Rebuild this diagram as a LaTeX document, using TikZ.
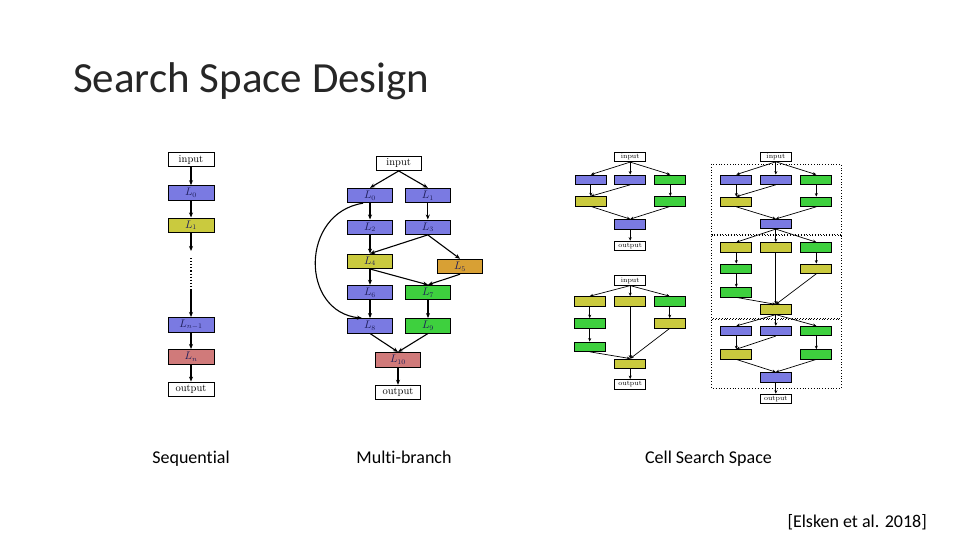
\documentclass[tikz,border=0pt]{standalone}
\usepackage{fontspec}
\newfontfamily\calib[RawFeature={-liga}]{Carlito}
\usetikzlibrary{arrows.meta}
\definecolor{cblue}{RGB}{122,122,226}
\definecolor{cyellow}{RGB}{202,202,62}
\definecolor{cgreen}{RGB}{62,208,62}
\definecolor{corange}{RGB}{216,160,52}
\definecolor{cred}{RGB}{208,122,122}
\definecolor{labc}{RGB}{30,30,90}
\begin{document}
\begin{tikzpicture}[x=1pt,y=-1pt,
 sbox/.style={draw, line width=0.9pt, minimum width=46pt, minimum height=14.5pt, inner sep=0pt, font=\fontsize{10.5}{12}\selectfont, text=labc},
 mbox/.style={sbox, minimum width=45pt},
 cbox/.style={draw, line width=0.7pt, minimum width=31pt, minimum height=9.5pt, inner sep=0pt, font=\fontsize{7}{8}\selectfont},
 arr/.style={-{Stealth[length=5pt,width=4pt]}, line width=1.1pt},
 carr/.style={-{Stealth[length=3.5pt,width=3pt]}, line width=0.7pt},
 cellbox/.style={draw, dotted, line width=0.8pt},
 captxt/.style={font=\calib\fontsize{18}{20}\selectfont, anchor=base, inner sep=0pt}
]
\useasboundingbox (0,0) rectangle (960,540);

% title and captions
\node[font=\calib\fontsize{43}{48}\selectfont, anchor=base west, inner sep=0pt, text=black!85] (title) at (73,93) {Search Space Design};
\node[captxt] (c1) at (191,463) {Sequential};
\node[captxt] (c2) at (404,463) {Multi-branch};
\node[captxt] (c3) at (708.5,463) {Cell Search Space};
\node[captxt, anchor=base east] (ref) at (927,527) {[Elsken et al. 2018]};

% ---------- sequential ----------
\node[sbox, fill=white, text=black] (sin) at (191,159.7) {input};
\node[sbox, fill=cblue] (s0) at (191,192.9) {$L_0$};
\node[sbox, fill=cyellow] (s1) at (191,225.2) {$L_1$};
\node[sbox, fill=cblue] (sn1) at (191,324.7) {$L_{n-1}$};
\node[sbox, fill=cred] (sn) at (191,356.7) {$L_n$};
\node[sbox, fill=white, text=black] (sout) at (191,389.3) {output};
\coordinate (sa) at (191,251);
\coordinate (sb) at (191,258);
\coordinate (sc) at (191,289);
\draw[arr] (sin) -- (s0);
\draw[arr] (s0) -- (s1);
\draw[arr] (s1) -- (sa);
\draw[line width=1.1pt, dotted] (sb) -- (sc);
\draw[arr] (sc) -- (sn1);
\draw[arr] (sn1) -- (sn);
\draw[arr] (sn) -- (sout);

% ---------- multi-branch ----------
\node[mbox, fill=white, text=black, minimum height=14pt] (min) at (398.7,163.5) {input};
\node[mbox, fill=cblue] (m0) at (370,195.5) {$L_0$};
\node[mbox, fill=cblue] (m1) at (427.8,195.5) {$L_1$};
\node[mbox, fill=cblue] (m2) at (370,227.2) {$L_2$};
\node[mbox, fill=cblue] (m3) at (427.8,227.2) {$L_3$};
\node[mbox, fill=cyellow] (m4) at (370,261.3) {$L_4$};
\node[mbox, fill=corange] (m5) at (460,266.5) {$L_5$};
\node[mbox, fill=cblue] (m6) at (370,292.5) {$L_6$};
\node[mbox, fill=cgreen] (m7) at (428,292.5) {$L_7$};
\node[mbox, fill=cblue] (m8) at (370,325.8) {$L_8$};
\node[mbox, fill=cgreen] (m9) at (428,325.8) {$L_9$};
\node[mbox, fill=cred] (m10) at (398,359.7) {$L_{10}$};
\node[mbox, fill=white, text=black] (mout) at (398,392.5) {output};
\draw[arr] (min.south) -- (m0.north);
\draw[arr] (min.south) -- (m1.north);
\draw[arr] (m0) -- (m2);
\draw[arr] (m1) -- (m3);
\draw[arr] (m2) -- (m4);
\draw[arr] (m3.south) -- (m4.north);
\draw[arr] (m3.south) -- (m5.north);
\draw[arr] (m4) -- (m6);
\draw[arr] (m4.south) -- (m7.north);
\draw[arr] (m5.south) -- (m7.north);
\draw[arr] (m6) -- (m8);
\draw[arr] (m7) -- (m9);
\draw[arr] (m8.south) -- (m10.north);
\draw[arr] (m9.south) -- (m10.north);
\draw[arr] (m10) -- (mout);
\draw[arr] ([xshift=-7pt]m0.south) .. controls (300,213) and (300,312) .. ([xshift=-8pt]m8.north);

% ---------- cell A ----------
\node[cbox, fill=white] (ain) at (630.2,157) {input};
\node[cbox, fill=cblue] (a1) at (590.8,179.7) {};
\node[cbox, fill=cblue] (a2) at (630.2,179.7) {};
\node[cbox, fill=cgreen] (a3) at (670.3,179.7) {};
\node[cbox, fill=cyellow] (a4) at (590.8,201.3) {};
\node[cbox, fill=cgreen] (a5) at (670.3,201.3) {};
\node[cbox, fill=cblue] (a6) at (630.2,224.2) {};
\node[cbox, fill=white] (aout) at (630.2,245.8) {output};
\draw[carr] (ain.south) -- (a1.north);
\draw[carr] (ain.south) -- (a2.north);
\draw[carr] (ain.south) -- (a3.north);
\draw[carr] (a1) -- (a4);
\draw[carr] (a2.south) -- (a4.north);
\draw[carr] (a3) -- (a5);
\draw[carr] (a4.south) -- (a6.north);
\draw[carr] (a5.south) -- (a6.north);
\draw[carr] (a6) -- (aout);

% ---------- cell B ----------
\node[cbox, fill=white] (bin) at (630.2,280.5) {input};
\node[cbox, fill=cyellow] (b1) at (589.7,301.3) {};
\node[cbox, fill=cyellow] (b2) at (630.2,301.3) {};
\node[cbox, fill=cgreen] (b3) at (669.7,301.3) {};
\node[cbox, fill=cgreen] (b4) at (589.7,323.3) {};
\node[cbox, fill=cyellow] (b5) at (669.7,323.3) {};
\node[cbox, fill=cgreen] (b6) at (589.7,346.7) {};
\node[cbox, fill=cyellow] (b7) at (630.2,363.7) {};
\node[cbox, fill=white] (bout) at (630.2,384.2) {output};
\draw[carr] (bin.south) -- (b1.north);
\draw[carr] (bin.south) -- (b2.north);
\draw[carr] (bin.south) -- (b3.north);
\draw[carr] (b1) -- (b4);
\draw[carr] (b4) -- (b6);
\draw[carr] (b3) -- (b5);
\draw[carr] (b6.south) -- (b7.north);
\draw[carr] (b2) -- (b7);
\draw[carr] (b5.south) -- (b7.north);
\draw[carr] (b7) -- (bout);

% ---------- stacked cells ----------
\draw[cellbox] (711.7,164) rectangle (841,234.5);
\draw[cellbox] (711.7,235.8) rectangle (841,318.2);
\draw[cellbox] (711.7,319.5) rectangle (841,388.3);
\node[cbox, fill=white] (rin) at (775.8,156.7) {input};
\node[cbox, fill=cblue] (r11) at (736.3,179.7) {};
\node[cbox, fill=cblue] (r12) at (775.8,179.7) {};
\node[cbox, fill=cgreen] (r13) at (816.3,179.7) {};
\node[cbox, fill=cyellow] (r14) at (736.3,201.7) {};
\node[cbox, fill=cgreen] (r15) at (816.3,201.7) {};
\node[cbox, fill=cblue] (r16) at (775.8,224) {};
\draw[carr] (rin.south) -- (r11.north);
\draw[carr] (rin.south) -- (r12.north);
\draw[carr] (rin.south) -- (r13.north);
\draw[carr] (r11) -- (r14);
\draw[carr] (r12.south) -- (r14.north);
\draw[carr] (r13) -- (r15);
\draw[carr] (r14.south) -- (r16.north);
\draw[carr] (r15.south) -- (r16.north);

\node[cbox, fill=cyellow] (r21) at (736.3,247.3) {};
\node[cbox, fill=cyellow] (r22) at (775.8,247.3) {};
\node[cbox, fill=cgreen] (r23) at (816.3,247.3) {};
\node[cbox, fill=cgreen] (r24) at (736.3,268.7) {};
\node[cbox, fill=cyellow] (r25) at (816.3,268.7) {};
\node[cbox, fill=cgreen] (r26) at (736.3,292.3) {};
\node[cbox, fill=cyellow] (r27) at (775.8,309.5) {};
\draw[carr] (r16.south) -- (r21.north);
\draw[carr] (r16.south) -- (r22.north);
\draw[carr] (r16.south) -- (r23.north);
\draw[carr] (r21) -- (r24);
\draw[carr] (r24) -- (r26);
\draw[carr] (r23) -- (r25);
\draw[carr] (r26.south) -- (r27.north);
\draw[carr] (r22) -- (r27);
\draw[carr] (r25.south) -- (r27.north);

\node[cbox, fill=cblue] (r31) at (736.3,331) {};
\node[cbox, fill=cblue] (r32) at (775.8,331) {};
\node[cbox, fill=cgreen] (r33) at (816.3,331) {};
\node[cbox, fill=cyellow] (r34) at (736.3,354.3) {};
\node[cbox, fill=cgreen] (r35) at (816.3,354.3) {};
\node[cbox, fill=cblue] (r36) at (775.8,377.2) {};
\node[cbox, fill=white] (rout) at (775.8,398.8) {output};
\draw[carr] (r27.south) -- (r31.north);
\draw[carr] (r27.south) -- (r32.north);
\draw[carr] (r27.south) -- (r33.north);
\draw[carr] (r31) -- (r34);
\draw[carr] (r32.south) -- (r34.north);
\draw[carr] (r33) -- (r35);
\draw[carr] (r34.south) -- (r36.north);
\draw[carr] (r35.south) -- (r36.north);
\draw[carr] (r36) -- (rout);
\end{tikzpicture}
\end{document}
